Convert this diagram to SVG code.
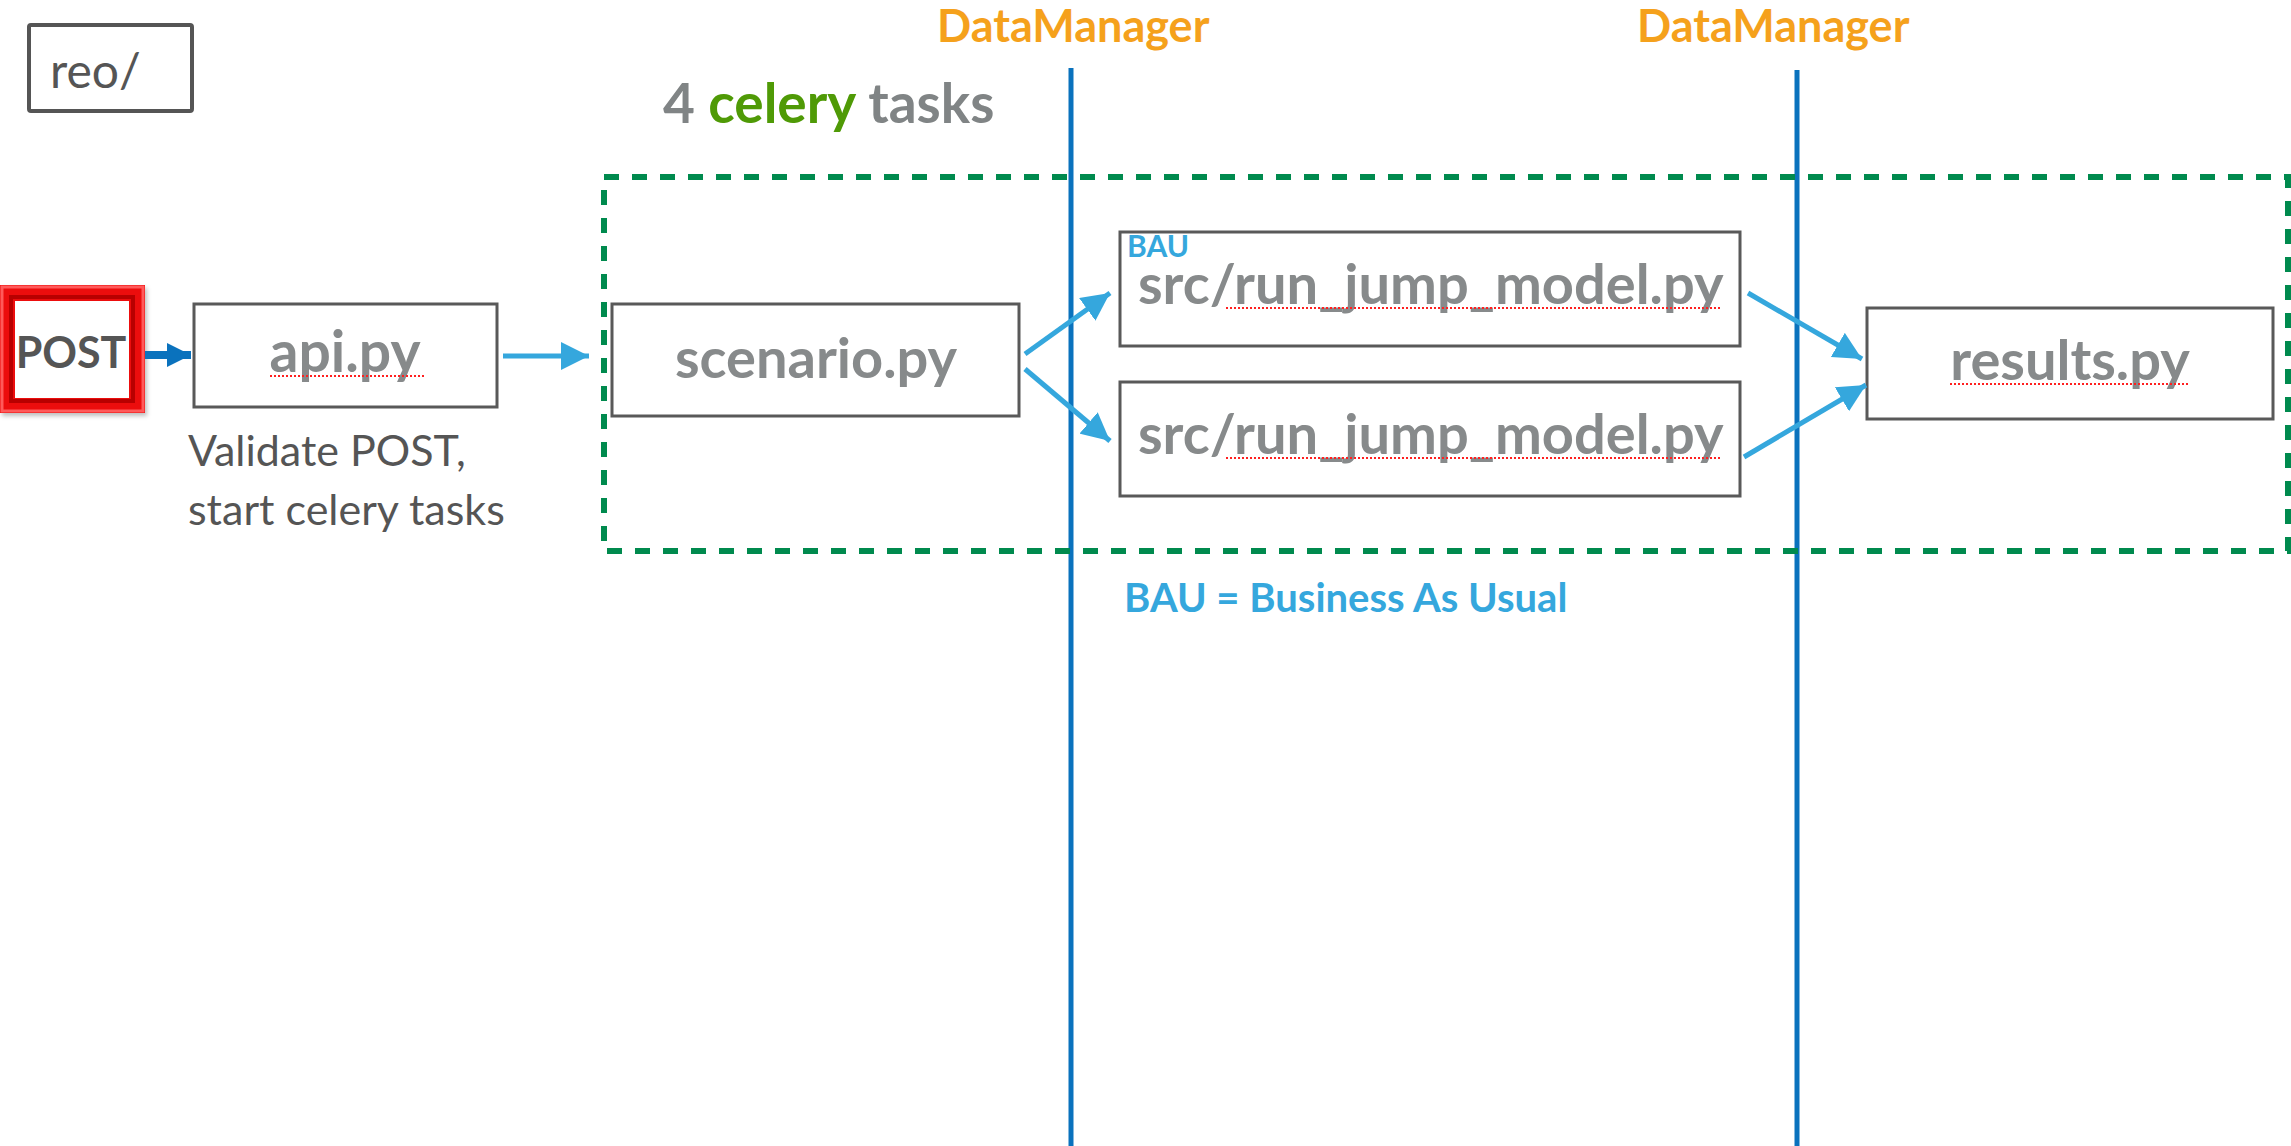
<svg xmlns="http://www.w3.org/2000/svg" width="2291" height="1146" viewBox="0 0 2291 1146">
  <defs>
    <style>
      .box { fill: #ffffff; stroke: #595959; stroke-width: 3; }
      .file { font-family: Lato, "Open Sans", sans-serif; font-weight: 700; fill: #878A8B; }
      .spell { stroke: #FF2020; stroke-width: 2; stroke-dasharray: 2 2; fill: none; }
      .flow { stroke: #35A7DD; stroke-width: 5; fill: none; }
      .rule { stroke: #0A72BD; stroke-width: 5; fill: none; }
      .note { font-family: Lato, "Open Sans", sans-serif; fill: #555555; }
      .dm { font-family: Lato, "Open Sans", sans-serif; font-weight: 700; fill: #F5A11C; font-size: 45px; }
      .bau { font-family: Lato, "Open Sans", sans-serif; font-weight: 700; fill: #35A7DD; }
    </style>
    <marker id="head" markerUnits="userSpaceOnUse" markerWidth="30" markerHeight="28" refX="28" refY="14" orient="auto">
      <path d="M0,0 L28,14 L0,28 z" fill="#35A7DD"/>
    </marker>
    <marker id="headDark" markerUnits="userSpaceOnUse" markerWidth="26" markerHeight="26" refX="24" refY="12" orient="auto">
      <path d="M0,0 L24,12 L0,24 z" fill="#0A72BD"/>
    </marker>
    <filter id="soft" x="-10%" y="-10%" width="130%" height="140%">
      <feDropShadow dx="2" dy="3" stdDeviation="2" flood-color="#000" flood-opacity="0.25"/>
    </filter>
  </defs>

  <!-- swim-lane rules -->
  <g id="rules">
    <line class="rule" x1="1071" y1="68" x2="1071" y2="1146"/>
    <line class="rule" x1="1797" y1="70" x2="1797" y2="1146"/>
    <line class="rule" x1="0" y1="558" x2="590" y2="558" filter="url(#soft)"/>
  </g>

  <!-- lane headings -->
  <g id="lane-labels">
    <text class="dm" x="937" y="42">DataManager</text>
    <text class="dm" x="1637" y="42">DataManager</text>
  </g>

  <!-- celery task group -->
  <g id="celery-group">
    <rect x="604" y="177" width="1684" height="374" fill="none" stroke="#008A4E" stroke-width="6" stroke-dasharray="15 13"/>
    <text x="663" y="123" font-family="Lato, 'Open Sans', sans-serif" font-weight="700" font-size="55" fill="#808485">4 <tspan fill="#4F9A06">celery</tspan> tasks</text>
  </g>

  <g id="reo">
    <rect x="29" y="25" width="163" height="86" rx="2" fill="#fff" stroke="#555555" stroke-width="4"/>
    <text class="note" x="50" y="88" font-size="48">reo/</text>
  </g>

  <g id="post">
    <!-- bevelled red frame -->
    <rect x="0" y="285" width="145" height="128" fill="#EC0A0A" filter="url(#soft)"/>
    <rect x="2" y="287" width="141" height="124" fill="none" stroke="#FF5A5A" stroke-width="3"/>
    <rect x="11" y="297" width="122" height="104" fill="none" stroke="#B80000" stroke-width="4"/>
    <rect x="15" y="301" width="114" height="97" fill="#ffffff"/>
    <text x="71" y="368" text-anchor="middle" font-family="Lato, 'Open Sans', sans-serif" font-weight="700" font-size="43" fill="#555555">POST</text>
  </g>

  <g id="api">
    <rect class="box" x="194" y="304" width="303" height="103"/>
    <text class="file" x="345" y="372" text-anchor="middle" font-size="57">api.py</text>
    <line class="spell" x1="270" y1="376" x2="424" y2="376"/>
    <text class="note" x="188" y="466" font-size="43">Validate POST,</text>
    <text class="note" x="188" y="525" font-size="43">start celery tasks</text>
  </g>

  <g id="scenario">
    <rect class="box" x="612" y="304" width="407" height="112"/>
    <text class="file" x="816" y="378" text-anchor="middle" font-size="56">scenario.py</text>
  </g>

  <g id="jump-bau">
    <rect class="box" x="1120" y="232" width="620" height="114"/>
    <text class="bau" x="1127" y="257" font-size="30">BAU</text>
    <text class="file" x="1138" y="304" font-size="56">src/run_jump_model.py</text>
    <line class="spell" x1="1226" y1="308" x2="1722" y2="308"/>
  </g>

  <g id="jump-alt">
    <rect class="box" x="1120" y="382" width="620" height="114"/>
    <text class="file" x="1138" y="454" font-size="56">src/run_jump_model.py</text>
    <line class="spell" x1="1226" y1="458" x2="1722" y2="458"/>
  </g>

  <g id="results">
    <rect class="box" x="1867" y="308" width="406" height="111"/>
    <text class="file" x="2070" y="380" text-anchor="middle" font-size="56">results.py</text>
    <line class="spell" x1="1950" y1="384" x2="2190" y2="384"/>
  </g>

  <g id="legend">
    <text class="bau" x="1124" y="612" font-size="40">BAU = Business As Usual</text>
  </g>

  <!-- connectors -->
  <g id="connectors">
    <line x1="145" y1="355" x2="191" y2="355" stroke="#0A72BD" stroke-width="8" marker-end="url(#headDark)"/>
    <line class="flow" x1="503" y1="356" x2="589" y2="356" marker-end="url(#head)"/>
    <line class="flow" x1="1025" y1="354" x2="1110" y2="293" marker-end="url(#head)"/>
    <line class="flow" x1="1025" y1="369" x2="1110" y2="441" marker-end="url(#head)"/>
    <line class="flow" x1="1748" y1="293" x2="1862" y2="359" marker-end="url(#head)"/>
    <line class="flow" x1="1744" y1="457" x2="1866" y2="385" marker-end="url(#head)"/>
  </g>
</svg>
